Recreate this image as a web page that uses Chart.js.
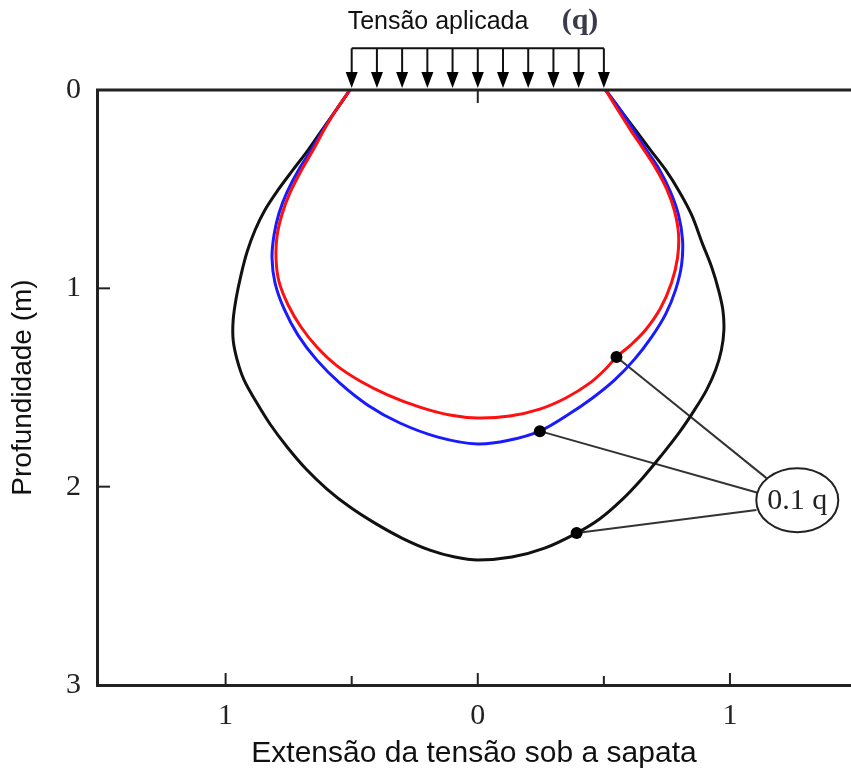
<!DOCTYPE html>
<html>
<head>
<meta charset="utf-8">
<script src="https://cdn.jsdelivr.net/npm/chart.js@4"></script>
<style>
  body { margin: 0; background: #fff; }
</style>
</head>
<body>
<canvas id="myChart" width="851" height="772"></canvas>
<script>
// isobar curves (x = extent under footing, y = depth in m)
var redX = [-0.507, -0.562, -0.61, -0.653, -0.701, -0.745, -0.776, -0.796, -0.8, -0.788, -0.752, -0.701, -0.638, -0.562, -0.467, -0.356, -0.23, -0.111, 0,
            0.127, 0.246, 0.349, 0.444, 0.503, 0.55, 0.606, 0.665, 0.725, 0.768, 0.792, 0.796, 0.78, 0.749, 0.705, 0.657, 0.606, 0.558, 0.507];
var redY = [0, 0.101, 0.202, 0.303, 0.408, 0.519, 0.625, 0.736, 0.852, 0.968, 1.084, 1.195, 1.296, 1.387, 1.467, 1.538, 1.599, 1.639, 1.654,
            1.644, 1.609, 1.553, 1.478, 1.412, 1.346, 1.286, 1.21, 1.099, 0.973, 0.847, 0.726, 0.61, 0.499, 0.393, 0.298, 0.202, 0.106, 0];

var blueX = [-0.507, -0.562, -0.614, -0.661, -0.713, -0.756, -0.788, -0.808, -0.816, -0.804, -0.768, -0.713, -0.638, -0.547, -0.436, -0.309, -0.158, 0,
             0.127, 0.246, 0.356, 0.455, 0.543, 0.622, 0.689, 0.745, 0.784, 0.808, 0.812, 0.796, 0.764, 0.721, 0.669, 0.618, 0.566, 0.507];
var blueY = [0, 0.101, 0.202, 0.303, 0.408, 0.514, 0.62, 0.731, 0.847, 0.973, 1.104, 1.236, 1.362, 1.478, 1.589, 1.679, 1.75, 1.785,
             1.765, 1.72, 1.639, 1.553, 1.462, 1.357, 1.246, 1.13, 1.009, 0.883, 0.756, 0.63, 0.514, 0.403, 0.303, 0.202, 0.101, 0];

var blackX = [-0.507, -0.562, -0.618, -0.673, -0.733, -0.792, -0.844, -0.883, -0.915, -0.939, -0.958, -0.97, -0.97, -0.954, -0.927, -0.883,
              -0.824, -0.756, -0.681, -0.598, -0.507, -0.408, -0.301, -0.19, -0.091, 0,
              0.135, 0.265, 0.392, 0.483, 0.57, 0.653, 0.729, 0.8, 0.859, 0.907, 0.943, 0.966, 0.976, 0.972, 0.955, 0.928, 0.89, 0.848,
              0.8, 0.745, 0.685, 0.626, 0.566, 0.507];
var blackY = [0, 0.101, 0.202, 0.303, 0.403, 0.504, 0.605, 0.706, 0.817, 0.933, 1.049, 1.16, 1.261, 1.362, 1.462, 1.563,
              1.684, 1.8, 1.911, 2.012, 2.103, 2.184, 2.259, 2.32, 2.355, 2.37,
              2.355, 2.31, 2.234, 2.163, 2.068, 1.957, 1.841, 1.725, 1.614, 1.513, 1.412, 1.311, 1.21, 1.11, 1.01, 0.895, 0.772, 0.63,
              0.514, 0.403, 0.303, 0.202, 0.101, 0];

// 0.1q marker dots and leader line ends
var dotX = [0.55, 0.246, 0.392];
var dotY = [1.346, 1.72, 2.234];
var leaderEndX = [1.145, 1.117, 1.105];
var leaderEndY = [1.957, 2.033, 2.118];
var labelX = 1.267;
var labelY = 2.068;
var labelText = '0.1 q';

// applied load arrows
var arrowX = [-0.5, -0.4, -0.3, -0.2, -0.1, 0, 0.1, 0.2, 0.3, 0.4, 0.5];
var arrowTopY = -0.21;

var xTickMarks = [-1, -0.5, 0, 0.5, 1];
var yTickMarks = [0, 1, 2, 3];

function pts(xs, ys) {
  return xs.map(function(v, i) { return { x: v, y: ys[i] }; });
}

var datasets = [];
datasets.push({
  data: pts(dotX, dotY), showLine: false, pointRadius: 6,
  pointBackgroundColor: '#000', pointBorderWidth: 0
});
datasets.push({ data: pts(redX, redY), showLine: true, borderColor: '#ff1010', borderWidth: 3, tension: 0.35, pointRadius: 0 });
datasets.push({ data: pts(blueX, blueY), showLine: true, borderColor: '#1a1aff', borderWidth: 3, tension: 0.35, pointRadius: 0 });
datasets.push({ data: pts(blackX, blackY), showLine: true, borderColor: '#111', borderWidth: 3, tension: 0.35, pointRadius: 0 });
for (var i = 0; i < dotX.length; i++) {
  datasets.push({
    data: [{ x: dotX[i], y: dotY[i] }, { x: leaderEndX[i], y: leaderEndY[i] }],
    showLine: true, borderColor: '#333', borderWidth: 2, pointRadius: 0, tension: 0, clip: false
  });
}

function noPad(s) {
  s.paddingLeft = 0; s.paddingRight = 0; s.paddingTop = 0; s.paddingBottom = 0;
}

var decor = {
  id: 'decor',
  afterDraw: function(chart) {
    var ctx = chart.ctx, xs = chart.scales.x, ys = chart.scales.y, a = chart.chartArea;
    ctx.save();
    ctx.strokeStyle = '#222';
    ctx.lineWidth = 3;
    ctx.beginPath();
    ctx.moveTo(a.left - 1, a.top);
    ctx.lineTo(a.right, a.top);
    ctx.stroke();

    // inward ticks
    ctx.lineWidth = 2;
    xTickMarks.forEach(function(v) {
      var px = xs.getPixelForValue(v);
      var len = Number.isInteger(v) ? 12 : 9;
      ctx.beginPath();
      ctx.moveTo(px, a.bottom);
      ctx.lineTo(px, a.bottom - len);
      ctx.stroke();
    });
    yTickMarks.forEach(function(v) {
      var py = ys.getPixelForValue(v);
      ctx.beginPath();
      ctx.moveTo(a.left, py);
      ctx.lineTo(a.left + 13, py);
      ctx.stroke();
    });
    var p0 = xs.getPixelForValue(0);
    ctx.beginPath();
    ctx.moveTo(p0, a.top);
    ctx.lineTo(p0, a.top + 13);
    ctx.stroke();

    // load arrows
    var topPx = ys.getPixelForValue(arrowTopY);
    var tipPx = ys.getPixelForValue(0) - 2;
    ctx.strokeStyle = '#111';
    ctx.fillStyle = '#000';
    ctx.lineWidth = 2;
    ctx.beginPath();
    ctx.moveTo(xs.getPixelForValue(arrowX[0]), topPx);
    ctx.lineTo(xs.getPixelForValue(arrowX[arrowX.length - 1]), topPx);
    ctx.stroke();
    arrowX.forEach(function(v) {
      var px = xs.getPixelForValue(v);
      ctx.beginPath();
      ctx.moveTo(px, topPx);
      ctx.lineTo(px, tipPx - 12);
      ctx.stroke();
      ctx.beginPath();
      ctx.moveTo(px - 6, tipPx - 16);
      ctx.lineTo(px + 6, tipPx - 16);
      ctx.lineTo(px, tipPx);
      ctx.closePath();
      ctx.fill();
    });

    // 0.1 q label
    var cx = xs.getPixelForValue(labelX), cy = ys.getPixelForValue(labelY);
    ctx.fillStyle = '#fff';
    ctx.strokeStyle = '#222';
    ctx.lineWidth = 2;
    ctx.beginPath();
    ctx.ellipse(cx, cy, 41, 32, 0, 0, Math.PI * 2);
    ctx.fill();
    ctx.stroke();
    ctx.fillStyle = '#222';
    ctx.font = '30px "Liberation Serif"';
    ctx.textAlign = 'center';
    ctx.textBaseline = 'middle';
    ctx.fillText(labelText, cx, cy + 1);

    // header
    ctx.font = '25px "Liberation Sans"';
    ctx.fillStyle = '#111';
    ctx.fillText('Tensão aplicada', 438, 22);
    ctx.font = 'bold 30px "Liberation Serif"';
    ctx.fillStyle = '#3a3a4c';
    ctx.fillText('(q)', 580, 21);
    ctx.restore();
  }
};

new Chart(document.getElementById('myChart'), {
  type: 'scatter',
  data: { datasets: datasets },
  plugins: [decor],
  options: {
    responsive: false,
    animation: false,
    layout: { autoPadding: false, padding: { top: 90, left: 0, right: 0, bottom: 0 } },
    plugins: { legend: { display: false }, tooltip: { enabled: false } },
    scales: {
      x: {
        type: 'linear', min: -1.51, max: 1.48,
        grid: { display: false, drawTicks: false },
        border: { display: true, color: '#222', width: 3 },
        ticks: {
          stepSize: 0.5, includeBounds: false, padding: 13, maxRotation: 0,
          color: '#222', font: { family: 'Liberation Serif', size: 30 },
          callback: function(v) { return Number.isInteger(v) && Math.abs(v) <= 1 ? String(Math.abs(v)) : ''; }
        },
        title: { display: true, text: 'Extensão da tensão sob a sapata', color: '#111',
                 font: { family: 'Liberation Sans', size: 30 }, padding: { top: 0, bottom: 0 } },
        afterFit: function(s) { s.height = 87; noPad(s); }
      },
      y: {
        type: 'linear', min: 0, max: 3, reverse: true,
        grid: { display: false, drawTicks: false },
        border: { display: true, color: '#222', width: 3 },
        ticks: { stepSize: 1, padding: 16, color: '#222', font: { family: 'Liberation Serif', size: 30 } },
        title: { display: true, text: 'Profundidade (m)', color: '#111',
                 font: { family: 'Liberation Sans', size: 28 }, padding: { top: 6, bottom: 0 } },
        afterFit: function(s) { s.width = 97; noPad(s); }
      }
    }
  }
});
</script>
</body>
</html>
